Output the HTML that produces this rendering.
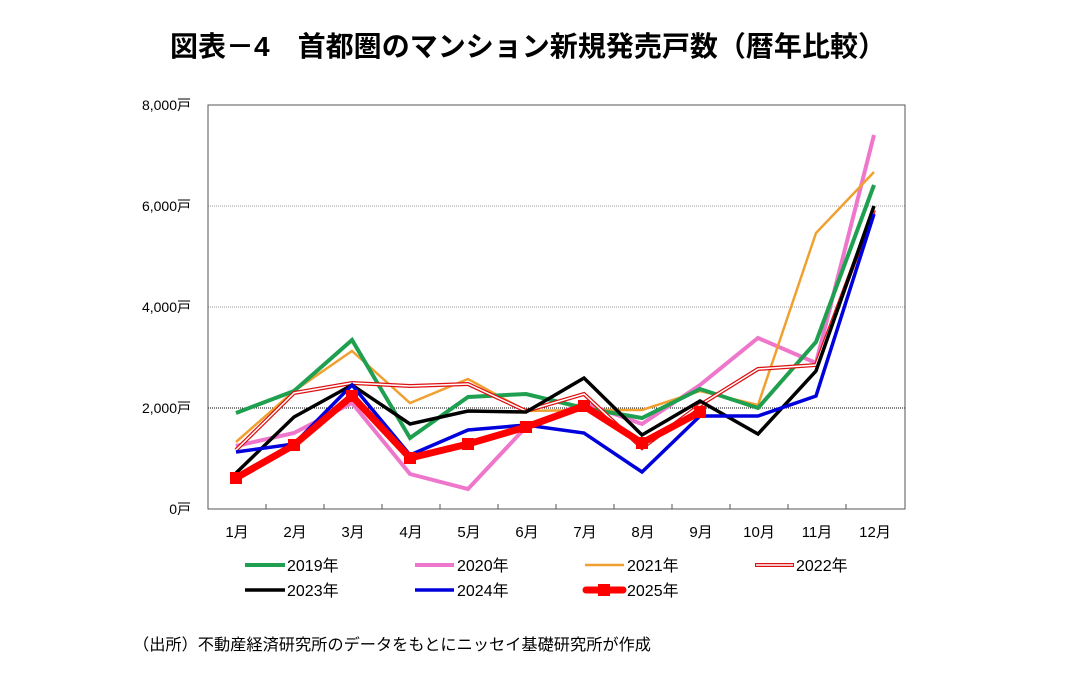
<!DOCTYPE html>
<html><head><meta charset="utf-8"><style>
body{margin:0;background:#fff;}
svg text{font-family:"Liberation Sans","Noto Sans CJK JP",sans-serif;}
</style></head><body>
<svg width="1077" height="679" viewBox="0 0 1077 679" xmlns="http://www.w3.org/2000/svg">
<rect width="1077" height="679" fill="#fff"/>
<text x="170" y="56" font-size="28" font-weight="bold" textLength="716" lengthAdjust="spacingAndGlyphs" fill="#000">図表－4　首都圏のマンション新規発売戸数（暦年比較）</text>
<line x1="208" y1="206" x2="905" y2="206" stroke="#999" stroke-width="1" stroke-dasharray="1,1"/>
<line x1="208" y1="307" x2="905" y2="307" stroke="#999" stroke-width="1" stroke-dasharray="1,1"/>
<line x1="208" y1="408" x2="905" y2="408" stroke="#000" stroke-width="1" stroke-dasharray="1,1"/>
<rect x="208" y="105" width="697" height="404" fill="none" stroke="#555" stroke-width="1"/>
<g stroke="#555" stroke-width="1">
<line x1="266" y1="509" x2="266" y2="504"/><line x1="324" y1="509" x2="324" y2="504"/><line x1="382" y1="509" x2="382" y2="504"/><line x1="440" y1="509" x2="440" y2="504"/><line x1="498" y1="509" x2="498" y2="504"/><line x1="556" y1="509" x2="556" y2="504"/><line x1="614" y1="509" x2="614" y2="504"/><line x1="672" y1="509" x2="672" y2="504"/><line x1="730" y1="509" x2="730" y2="504"/><line x1="788" y1="509" x2="788" y2="504"/><line x1="846" y1="509" x2="846" y2="504"/>
</g>
<g font-size="14" text-anchor="end" fill="#000">
<text x="191" y="110">8,000戸</text><text x="191" y="211">6,000戸</text><text x="191" y="312">4,000戸</text><text x="191" y="413">2,000戸</text><text x="191" y="514">0戸</text>
</g>
<g font-size="15" text-anchor="middle" fill="#000">
<text x="237" y="537">1月</text><text x="295" y="537">2月</text><text x="353" y="537">3月</text><text x="411" y="537">4月</text><text x="469" y="537">5月</text><text x="527" y="537">6月</text><text x="585" y="537">7月</text><text x="643" y="537">8月</text><text x="701" y="537">9月</text><text x="759" y="537">10月</text><text x="817" y="537">11月</text><text x="875" y="537">12月</text>
</g>
<g fill="none" stroke-linejoin="miter">
<polyline stroke="#ee77cc" stroke-width="4" points="236,446 294,433 352,403 410,474 468,489 526,427 584,403 642,424 700,385 758,338 816,363 874,135"/>
<polyline stroke="#f0a030" stroke-width="2.5" points="236,442 294,391 352,351 410,403 468,379 526,411 584,410 642,410 700,391 758,405 816,233 874,172"/>
<polyline stroke="#1fa050" stroke-width="4" points="236,413 294,391 352,340 410,438 468,397 526,394 584,408 642,418 700,389 758,408 816,342 874,185"/>
<polyline stroke="#dd1111" stroke-width="4" points="236,450 294,393 352,383 410,386 468,384 526,411 584,394 642,448 700,405 758,369 816,365 874,210"/>
<polyline stroke="#fff" stroke-width="1.5" points="236,450 294,393 352,383 410,386 468,384 526,411 584,394 642,448 700,405 758,369 816,365 874,210"/>
<polyline stroke="#000" stroke-width="3.5" points="236,473 294,417 352,385 410,424 468,411 526,412 584,378 642,435 700,401 758,434 816,371 874,206"/>
<polyline stroke="#0000dd" stroke-width="3.5" points="236,452 294,444 352,385 410,455 468,430 526,425 584,433 642,472 700,416 758,416 816,396 874,214"/>
<polyline stroke="#ff0000" stroke-width="7" points="236,478 294,445 352,396 410,458 468,444 526,427 584,406 642,443 700,412"/>
</g>
<g fill="#ff0000">
<rect x="230" y="472" width="12" height="12"/><rect x="288" y="439" width="12" height="12"/><rect x="346" y="390" width="12" height="12"/><rect x="404" y="452" width="12" height="12"/><rect x="462" y="438" width="12" height="12"/><rect x="520" y="421" width="12" height="12"/><rect x="578" y="400" width="12" height="12"/><rect x="636" y="437" width="12" height="12"/><rect x="694" y="406" width="12" height="12"/>
</g>
<g font-size="16" fill="#000">
<line x1="245" y1="565" x2="285" y2="565" stroke="#1fa050" stroke-width="4"/><text x="287" y="571">2019年</text>
<line x1="415" y1="565" x2="454" y2="565" stroke="#ee77cc" stroke-width="4"/><text x="457" y="571">2020年</text>
<line x1="585" y1="565" x2="624" y2="565" stroke="#f0a030" stroke-width="2.5"/><text x="627" y="571">2021年</text>
<line x1="755" y1="565" x2="794" y2="565" stroke="#dd1111" stroke-width="4"/><line x1="756" y1="565" x2="793" y2="565" stroke="#fff" stroke-width="1.5"/><text x="796" y="571">2022年</text>
<line x1="245" y1="590" x2="285" y2="590" stroke="#000" stroke-width="3.5"/><text x="287" y="596">2023年</text>
<line x1="415" y1="590" x2="454" y2="590" stroke="#0000dd" stroke-width="3.5"/><text x="457" y="596">2024年</text>
<line x1="586" y1="590" x2="623" y2="590" stroke="#ff0000" stroke-width="7" stroke-linecap="round"/><rect x="598" y="584" width="12" height="12" fill="#ff0000"/><text x="627" y="596">2025年</text>
</g>
<text x="133" y="650" font-size="16" textLength="518" lengthAdjust="spacingAndGlyphs" fill="#000">（出所）不動産経済研究所のデータをもとにニッセイ基礎研究所が作成</text>
</svg>
</body></html>
